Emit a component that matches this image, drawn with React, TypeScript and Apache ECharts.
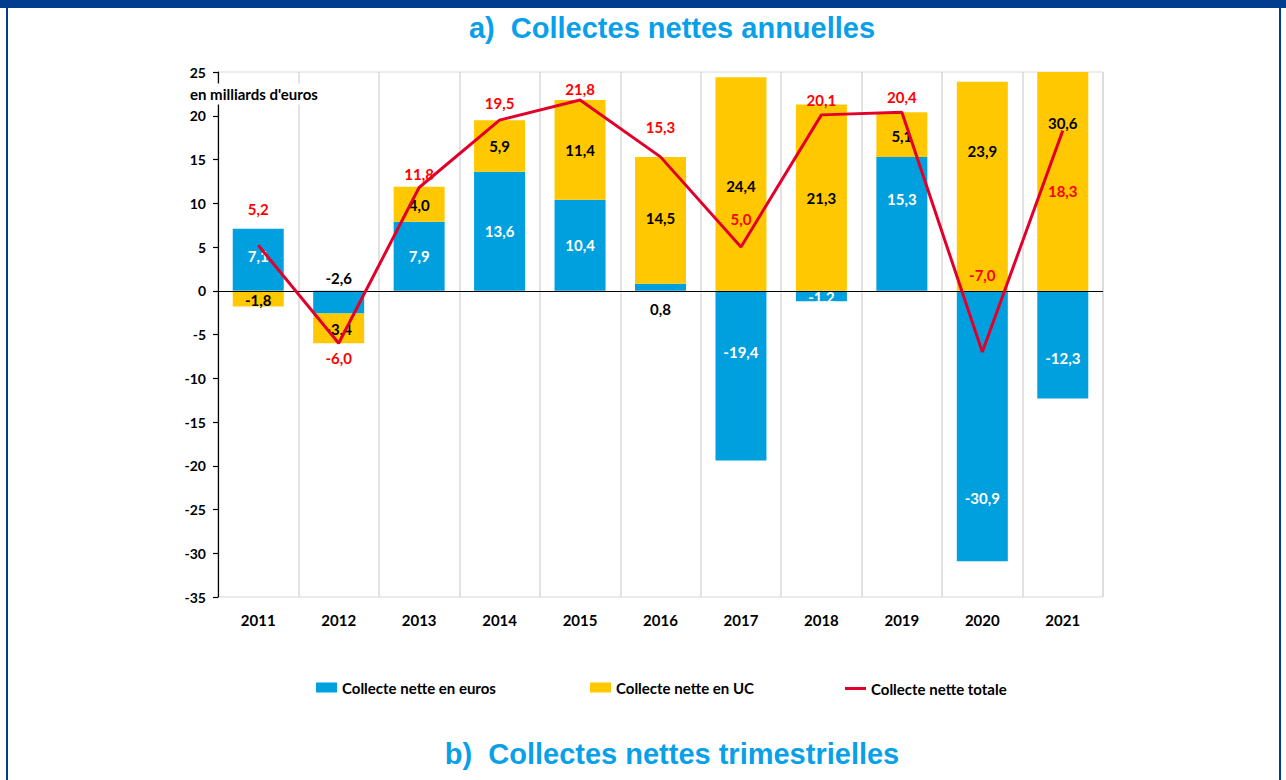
import React, { useEffect, useRef } from "react";
import * as echarts from "echarts";

const years = ["2011", "2012", "2013", "2014", "2015", "2016", "2017", "2018", "2019", "2020", "2021"];
const collecteEuros = [7.1, -2.6, 7.9, 13.6, 10.4, 0.8, -19.4, -1.2, 15.3, -30.9, -12.3];
const collecteUC = [-1.8, -3.4, 4.0, 5.9, 11.4, 14.5, 24.4, 21.3, 5.1, 23.9, 30.6];
const collecteTotale = [5.2, -6.0, 11.8, 19.5, 21.8, 15.3, 5.0, 20.1, 20.4, -7.0, 18.3];
const yTicks = { min: -35, max: 25, interval: 5 };

// label styling (vertical offsets in px, colours) — style only, not data
const eurosLabelOffset = [-4, -24, 0, 0, 0, 22, -24, 1, -25, 72, 13];
const eurosLabelColor = ["#fff", "#000", "#fff", "#fff", "#fff", "#000", "#fff", "#fff", "#fff", "#fff", "#fff"];
const ucLabelOffset = [1, 1, 1, 0, 0, -2, 2, 0, 1, -35, -58];
const totalLabelOffset = [-36, 15, -14, -17, -11, -30, -28, -15, -15, -77, 60];

const FONT = "Lato, 'Open Sans', sans-serif";
const TITLE_FONT = "'Liberation Sans Narrow', 'Liberation Sans', Arial, sans-serif";
const BLUE = "#00A0DE";
const YELLOW = "#FFC800";
const RED_LINE = "#E2002B";
const FRAME = "#013C8E";
const TITLE_BLUE = "#09A0EA";

const fmt = (v: number) => v.toFixed(1).replace(".", ",");

export default function App() {
  const ref = useRef<HTMLDivElement>(null);
  useEffect(() => {
    if (!ref.current) return;
    const chart = echarts.init(ref.current, undefined, { renderer: "svg" });
    const labelBase = { fontFamily: FONT, fontWeight: "bold" as const, fontSize: 15 };
    chart.setOption({
      animation: false,
      backgroundColor: "#ffffff",
      grid: {
        left: 218,
        right: 183,
        top: 72,
        bottom: 183,
        show: true,
        borderColor: "#D9D9D9",
        borderWidth: 1,
      },
      legend: [
        {
          left: 311,
          top: 675,
          itemWidth: 21,
          itemHeight: 10,
          data: [{ name: "Collecte nette en euros", icon: "rect" }],
          textStyle: { ...labelBase, color: "#000" },
        },
        {
          left: 585,
          top: 675,
          itemWidth: 21,
          itemHeight: 10,
          data: [{ name: "Collecte nette en UC", icon: "rect" }],
          textStyle: { ...labelBase, color: "#000" },
        },
        {
          left: 840,
          top: 676,
          itemWidth: 21,
          itemHeight: 3,
          data: [{ name: "Collecte nette totale", icon: "rect" }],
          textStyle: { ...labelBase, color: "#000" },
        },
      ],
      xAxis: {
        type: "category",
        data: years,
        position: "bottom",
        axisLine: { show: false, onZero: false },
        axisTick: { show: false },
        axisLabel: { ...labelBase, color: "#000", margin: 15 },
        splitLine: { show: true, lineStyle: { color: "#D9D9D9", width: 1.5 } },
      },
      yAxis: {
        type: "value",
        min: yTicks.min,
        max: yTicks.max,
        interval: yTicks.interval,
        axisLine: { show: true, lineStyle: { color: "#000", width: 1.2 } },
        axisTick: { show: true, length: 5, lineStyle: { color: "#000", width: 1.2 } },
        axisLabel: { ...labelBase, fontSize: 14, color: "#000", margin: 12 },
        splitLine: { show: false },
      },
      series: [
        {
          name: "Collecte nette en euros",
          type: "bar",
          stack: "total",
          barWidth: 51,
          itemStyle: { color: BLUE },
          data: collecteEuros.map((v, i) => ({
            value: v,
            label: {
              show: true,
              position: "inside",
              offset: [0, eurosLabelOffset[i]],
              color: eurosLabelColor[i],
              ...labelBase,
              formatter: () => fmt(v),
            },
          })),
        },
        {
          name: "Collecte nette en UC",
          type: "bar",
          stack: "total",
          barWidth: 51,
          itemStyle: { color: YELLOW },
          data: collecteUC.map((v, i) => ({
            value: v,
            label: {
              show: true,
              position: "inside",
              offset: [0, ucLabelOffset[i]],
              color: "#000",
              ...labelBase,
              formatter: () => fmt(v),
            },
          })),
          markLine: {
            silent: true,
            symbol: ["none", "none"],
            label: { show: false },
            lineStyle: { color: "#000", width: 1, type: "solid" },
            data: [{ yAxis: 0 }],
          },
        },
        {
          name: "Collecte nette totale",
          type: "line",
          z: 10,
          symbol: "circle",
          symbolSize: 0,
          showSymbol: true,
          itemStyle: { color: RED_LINE },
          lineStyle: { color: RED_LINE, width: 3 },
          data: collecteTotale.map((v, i) => ({
            value: v,
            label: {
              show: true,
              position: "inside",
              offset: [0, totalLabelOffset[i]],
              color: "#FF0000",
              ...labelBase,
              formatter: () => fmt(v),
            },
          })),
        },
      ],
      graphic: [
        { type: "rect", shape: { x: 0, y: 0, width: 1286, height: 8 }, style: { fill: FRAME }, silent: true },
        { type: "rect", shape: { x: 6, y: 0, width: 2, height: 780 }, style: { fill: FRAME }, silent: true },
        { type: "rect", shape: { x: 1279, y: 0, width: 2, height: 780 }, style: { fill: FRAME }, silent: true },
        {
          type: "text",
          x: 672,
          y: 28,
          style: {
            text: "a)  Collectes nettes annuelles",
            fill: TITLE_BLUE,
            font: `bold 29px ${TITLE_FONT}`,
            textAlign: "center",
            textVerticalAlign: "middle",
          },
        },
        {
          type: "text",
          x: 672,
          y: 754,
          style: {
            text: "b)  Collectes nettes trimestrielles",
            fill: TITLE_BLUE,
            font: `bold 29px ${TITLE_FONT}`,
            textAlign: "center",
            textVerticalAlign: "middle",
          },
        },
        {
          type: "text",
          x: 188,
          y: 94,
          z: 100,
          style: {
            text: "en milliards d'euros",
            fill: "#000",
            font: `bold 15px ${FONT}`,
            textAlign: "left",
            textVerticalAlign: "middle",
            backgroundColor: "#fff",
            padding: [3, 2, 3, 2],
          },
        },
      ],
    });
    return () => chart.dispose();
  }, []);
  return (
    <div
      ref={ref}
      style={{ position: "fixed", left: 0, top: 0, width: 1286, height: 780, background: "#fff" }}
    />
  );
}
